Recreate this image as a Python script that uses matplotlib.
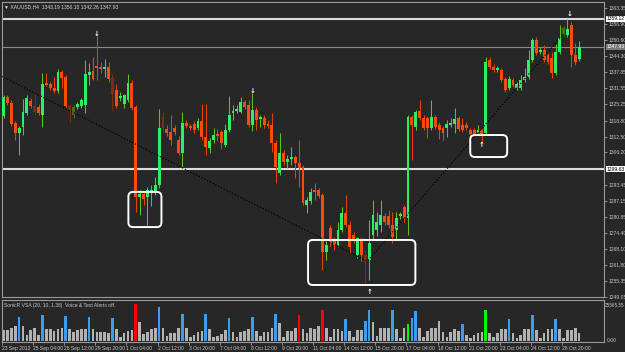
import matplotlib
matplotlib.use("Agg")
import matplotlib.pyplot as plt
from matplotlib.patches import FancyBboxPatch
import numpy as np

plt.rcParams['font.family'] = ['Liberation Sans', 'DejaVu Sans']

# XAUUSD H4 candles
opens = [1320.6, 1328.1, 1325.8, 1317.9, 1313.9, 1316.3, 1321.8, 1326.6, 1324.6, 1324.2,
         1321.0, 1333.7, 1333.3, 1331.7, 1330.5, 1338.0, 1336.1, 1324.6, 1321.0, 1324.2,
         1324.6, 1325.0, 1336.9, 1338.4, 1340.4, 1340.0, 1339.2, 1340.0, 1335.7, 1330.9,
         1327.8, 1325.4, 1327.0, 1333.7, 1324.2, 1288.6, 1289.8, 1288.6, 1290.2, 1290.6,
         1293.3, 1320.2, 1315.5, 1314.3, 1315.9, 1311.1, 1306.0, 1317.9, 1316.7, 1317.5,
         1315.9, 1318.7, 1312.3, 1308.0, 1311.1, 1313.5, 1314.3, 1309.2, 1315.1, 1321.8,
         1322.6, 1322.2, 1326.2, 1325.0, 1317.1, 1323.0, 1319.4, 1319.8, 1317.5, 1317.1,
         1310.0, 1298.1, 1306.0, 1302.4, 1303.6, 1304.4, 1302.0, 1300.5, 1285.4, 1287.0,
         1291.4, 1291.4, 1289.4, 1266.8, 1276.3, 1271.6, 1269.6, 1275.5, 1282.3, 1277.5,
         1273.6, 1265.7, 1271.6, 1265.7, 1263.7, 1273.6, 1275.5, 1277.5, 1281.1, 1281.1,
         1277.5, 1275.5, 1281.1, 1284.6, 1280.3, 1320.2, 1316.3, 1322.6, 1319.8, 1319.8,
         1315.9, 1320.2, 1317.1, 1315.9, 1315.9, 1317.1, 1317.5, 1319.8, 1317.1, 1317.1,
         1315.1, 1315.1, 1313.9, 1315.1, 1313.9, 1342.8, 1340.0, 1338.8, 1338.8, 1335.3,
         1331.7, 1334.9, 1331.7, 1331.7, 1334.9, 1336.1, 1342.8, 1350.7, 1345.9, 1346.7,
         1344.8, 1343.6, 1337.6, 1345.9, 1353.1, 1352.7, 1356.6, 1344.8, 1343.19]
highs = [1328.9, 1328.9, 1327.0, 1318.7, 1316.7, 1327.4, 1328.9, 1327.8, 1329.3, 1325.4,
         1337.6, 1337.6, 1334.1, 1336.1, 1339.2, 1338.8, 1336.9, 1325.4, 1325.0, 1326.2,
         1327.8, 1342.8, 1341.6, 1344.0, 1352.3, 1342.0, 1343.2, 1342.0, 1337.2, 1333.3,
         1330.1, 1329.3, 1337.2, 1334.9, 1325.0, 1291.4, 1290.6, 1292.6, 1293.3, 1296.5,
         1323.4, 1322.2, 1317.1, 1321.0, 1317.1, 1312.7, 1322.2, 1319.0, 1317.5, 1318.7,
         1319.8, 1325.4, 1325.4, 1311.9, 1315.9, 1315.5, 1315.1, 1317.5, 1328.5, 1325.0,
         1325.0, 1328.1, 1327.0, 1327.0, 1329.7, 1324.2, 1321.0, 1321.0, 1319.0, 1321.8,
         1311.1, 1313.9, 1307.2, 1305.2, 1308.4, 1305.2, 1311.1, 1301.3, 1288.6, 1292.2,
         1294.1, 1292.2, 1290.2, 1271.6, 1277.5, 1272.8, 1278.7, 1284.6, 1289.4, 1279.1,
         1274.8, 1272.8, 1272.8, 1267.6, 1279.5, 1287.4, 1282.7, 1287.4, 1282.3, 1283.5,
         1282.7, 1282.7, 1282.7, 1285.4, 1321.0, 1321.0, 1323.0, 1327.0, 1321.0, 1320.6,
         1327.0, 1321.0, 1318.3, 1316.7, 1319.0, 1319.8, 1323.8, 1320.6, 1319.8, 1318.3,
         1315.9, 1315.9, 1317.1, 1315.9, 1344.0, 1344.0, 1341.2, 1340.4, 1339.6, 1336.1,
         1336.5, 1335.7, 1334.1, 1336.9, 1339.6, 1346.7, 1351.5, 1351.9, 1347.9, 1348.7,
         1345.5, 1345.9, 1349.1, 1356.6, 1356.2, 1359.1, 1357.8, 1349.5, 1350.10]
lows = [1319.8, 1325.0, 1316.7, 1311.1, 1305.2, 1313.1, 1321.0, 1323.8, 1321.4, 1321.0,
        1316.3, 1332.5, 1330.9, 1329.7, 1329.7, 1331.7, 1323.8, 1318.3, 1319.8, 1323.4,
        1323.8, 1321.8, 1332.9, 1334.9, 1334.9, 1337.6, 1336.1, 1334.1, 1323.0, 1323.8,
        1326.6, 1323.8, 1326.2, 1323.0, 1282.7, 1281.5, 1285.4, 1277.5, 1285.0, 1289.4,
        1292.2, 1314.3, 1312.7, 1309.2, 1313.1, 1305.2, 1300.5, 1315.9, 1315.1, 1313.9,
        1315.1, 1311.1, 1305.2, 1306.0, 1310.0, 1310.7, 1307.6, 1308.4, 1314.3, 1319.0,
        1321.8, 1321.8, 1323.4, 1316.3, 1314.7, 1315.1, 1316.3, 1315.9, 1315.9, 1306.4,
        1294.1, 1297.3, 1301.3, 1300.1, 1301.3, 1296.1, 1292.6, 1285.4, 1282.3, 1285.8,
        1287.4, 1288.2, 1259.7, 1263.7, 1269.2, 1267.6, 1268.8, 1274.8, 1276.7, 1266.5,
        1270.4, 1264.5, 1263.3, 1254.6, 1255.8, 1271.6, 1273.2, 1274.8, 1277.5, 1276.3,
        1270.4, 1271.6, 1279.9, 1278.7, 1273.6, 1303.2, 1315.1, 1319.0, 1315.1, 1311.9,
        1315.1, 1315.5, 1311.5, 1311.1, 1312.3, 1316.3, 1313.9, 1314.7, 1314.3, 1315.1,
        1312.3, 1312.7, 1313.1, 1310.0, 1313.1, 1339.2, 1338.0, 1338.0, 1334.1, 1330.1,
        1330.9, 1332.1, 1330.9, 1330.9, 1334.1, 1335.3, 1342.0, 1344.8, 1345.2, 1342.0,
        1341.2, 1335.7, 1336.9, 1345.2, 1352.3, 1351.9, 1340.0, 1340.8, 1342.26]
closes = [1328.1, 1325.8, 1317.5, 1313.9, 1315.9, 1322.2, 1327.8, 1324.6, 1322.2, 1321.8,
          1333.3, 1332.9, 1331.7, 1330.5, 1338.0, 1335.7, 1324.6, 1323.0, 1324.2, 1325.4,
          1327.0, 1337.2, 1338.0, 1335.3, 1339.6, 1339.2, 1340.0, 1335.3, 1328.9, 1324.6,
          1328.5, 1328.9, 1333.7, 1323.8, 1288.6, 1289.8, 1287.8, 1291.4, 1291.4, 1293.3,
          1315.9, 1315.9, 1313.9, 1311.1, 1314.3, 1306.0, 1317.9, 1316.7, 1315.9, 1315.1,
          1318.7, 1312.3, 1308.4, 1310.7, 1313.1, 1312.7, 1310.0, 1315.1, 1321.0, 1322.6,
          1323.4, 1326.2, 1324.2, 1317.1, 1323.0, 1319.0, 1320.2, 1317.1, 1316.7, 1310.0,
          1300.5, 1306.0, 1302.4, 1303.6, 1304.4, 1302.0, 1300.1, 1286.2, 1287.4, 1290.6,
          1290.6, 1289.0, 1266.8, 1269.6, 1270.4, 1269.6, 1275.5, 1282.3, 1277.5, 1268.8,
          1271.6, 1272.4, 1265.7, 1262.9, 1270.4, 1281.5, 1278.7, 1281.5, 1278.7, 1277.5,
          1272.8, 1280.3, 1281.9, 1280.3, 1320.2, 1317.1, 1322.2, 1319.8, 1315.9, 1315.9,
          1320.2, 1316.3, 1315.1, 1313.9, 1317.5, 1317.9, 1319.4, 1315.5, 1315.1, 1315.9,
          1313.5, 1313.5, 1315.1, 1313.5, 1342.0, 1340.0, 1338.8, 1339.6, 1334.9, 1330.9,
          1335.3, 1332.9, 1333.3, 1334.9, 1336.1, 1342.8, 1350.7, 1345.5, 1346.7, 1342.8,
          1342.0, 1337.6, 1345.9, 1351.5, 1355.4, 1355.0, 1344.8, 1342.0, 1347.93]

# SonicR VSA volume
volumes = [6500, 6500, 8200, 9200, 14900, 9000, 3400, 6500, 8200, 3800,
           15900, 7600, 7600, 5900, 7000, 8200, 15300, 7600, 5500, 6500,
           7600, 7000, 14900, 7000, 5500, 5500, 5100, 4900, 14400, 7600,
           2400, 4500, 6100, 6500, 23200, 11700, 4100, 5500, 7000, 8200,
           21100, 8000, 3000, 4500, 4900, 8200, 16900, 8200, 2400, 3400,
           5500, 6000, 16500, 7200, 2000, 3000, 4100, 6500, 14200, 5100,
           2000, 5500, 5900, 7200, 14900, 5900, 2800, 5100, 5100, 8200,
           16500, 11100, 2400, 5900, 5900, 8000, 15900, 7600, 4500, 8200,
           7200, 9000, 19000, 8000, 2400, 7000, 7000, 6100, 13400, 6100,
           2400, 6500, 6500, 12200, 19000, 11700, 3000, 8000, 8000, 8200,
           19000, 7600, 1800, 8200, 10700, 14200, 18600, 8200, 2400, 5900,
           8200, 8200, 12200, 5100, 2400, 5100, 7200, 6100, 10700, 3800,
           1400, 3400, 4900, 5500, 19000, 4900, 2000, 4500, 7000, 7600,
           13400, 4900, 1400, 3800, 7600, 7600, 15900, 6500, 1400, 4500,
           7600, 7600, 13400, 7600, 1400, 6500, 6500, 8200, 4500]
blue_bars = [4, 10, 16, 22, 28, 40, 46, 52, 58, 64, 70, 88, 93, 94, 100, 105, 106, 118, 130, 136, 142]
red_bars = [34, 76, 82]
green_bars = [104, 124]
dim_bars = [8, 17, 18, 28, 41, 93, 144]

date_labels = ["23 Sep 2013", "25 Sep 04:00", "26 Sep 12:00", "29 Sep 20:00", "1 Oct 04:00",
               "2 Oct 12:00", "3 Oct 20:00", "7 Oct 04:00", "8 Oct 12:00", "9 Oct 20:00",
               "11 Oct 04:00", "14 Oct 12:00", "15 Oct 20:00", "17 Oct 04:00", "18 Oct 12:00",
               "21 Oct 20:00", "23 Oct 04:00", "24 Oct 12:00", "28 Oct 20:00"]
price_ticks = [1363.35, 1356.90, 1350.60, 1344.30, 1337.85, 1331.55, 1325.25, 1318.80,
               1312.50, 1306.20, 1293.45, 1287.15, 1280.85, 1274.40, 1268.10, 1261.80,
               1255.35, 1249.05]
level_high = 1359.12
level_bid = 1347.93
level_mid = 1299.63

zz_bars = [-0.5, 93.5, 143.0]
zz_prices = [1336.3, 1263.2, 1351.3]

arrow_bars = [24, 64, 94, 123, 145.5]
arrow_prices = [1353.0, 1330.6, 1251.2, 1309.0, 1361.0]
arrow_up = [False, False, True, True, False]

boxes = [(32.1, 40.6, 1276.7, 1290.6), (78.3, 105.9, 1253.8, 1271.6), (120.0, 129.5, 1304.4, 1313.1)]

bg = '#272727'
txt = '#c8c8c8'
fs = 3.6
up_body, up_wick = '#2cef68', '#5cc21a'
dn_body, dn_wick = '#ff4a0c', '#e8400a'
dim_up, dim_dn = '#4d6a22', '#7e2c12'

fig = plt.figure(figsize=(6.25, 3.52), dpi=100, facecolor=bg)
ax = fig.add_axes([2 / 625, 55 / 352, 602 / 625, 295 / 352], facecolor=bg)
axv = fig.add_axes([2 / 625, 10 / 352, 602 / 625, 42 / 352], facecolor=bg, sharex=ax)

n = len(opens)
idx = np.arange(n)

# horizontal levels
ax.axhline(level_high, color='#d8d8d8', lw=1.5, zorder=1)
ax.axhline(level_bid, color='#8a8a8a', lw=0.8, zorder=1)
ax.axhline(level_mid, color='#dcdcdc', lw=1.5, zorder=1)

# candles
for i in idx:
    o, h, l, c = opens[i], highs[i], lows[i], closes[i]
    up = c >= o
    if i in dim_bars:
        bc = wc = dim_up if up else dim_dn
    else:
        bc = up_body if up else dn_body
        wc = up_wick if up else dn_wick
    ax.vlines(i, l, h, color=wc, lw=0.75, zorder=2)
    ax.bar(i, max(abs(c - o), 0.35), bottom=min(o, c), width=0.72, color=bc, lw=0, zorder=3)

# zigzag
ax.plot(zz_bars, zz_prices, color='black', lw=0.8, ls=(0, (1.2, 1.6)), zorder=4)

# rounded boxes
for x0, x1, y0, y1 in boxes:
    ax.add_patch(FancyBboxPatch((x0, y0), x1 - x0, y1 - y0,
                                boxstyle="round,pad=0,rounding_size=1.2",
                                mutation_aspect=1.55, fc='none', ec='white', lw=1.4, zorder=5))

# fractal arrows
for b, p, u in zip(arrow_bars, arrow_prices, arrow_up):
    ax.text(b, p, '↑' if u else '↓', color='white', fontsize=5, ha='center', va='center',
            family=['DejaVu Sans'], fontweight='bold', zorder=6)

ax.set_xlim(0.05, 154.4)
ax.set_ylim(1249.05, 1365.7)
ax.yaxis.tick_right()
ax.set_yticks(price_ticks)
ax.set_yticklabels([f"{v:.2f}" for v in price_ticks])
ax.tick_params(axis='y', colors='#a0a0a0', labelcolor=txt, labelsize=fs, length=2, width=0.6, pad=1)
ax.tick_params(axis='x', bottom=False, labelbottom=False)
for s in ax.spines.values():
    s.set_color('#9a9a9a')
    s.set_linewidth(0.8)

# boxed price labels
ytr = ax.get_yaxis_transform()
ax.text(1.004, level_high, f"{level_high:.2f}", transform=ytr, fontsize=fs, color='black',
        va='center', ha='left', bbox=dict(boxstyle='square,pad=0.12', fc='white', ec='none'))
ax.text(1.004, level_bid, f"{level_bid:.2f}", transform=ytr, fontsize=fs, color='white',
        va='center', ha='left', bbox=dict(boxstyle='square,pad=0.12', fc='#7a7a7a', ec='none'))
ax.text(1.004, level_mid, f"{level_mid:.2f}", transform=ytr, fontsize=fs, color='black',
        va='center', ha='left', bbox=dict(boxstyle='square,pad=0.12', fc='white', ec='none'))

# volume panel
vcol = []
for i in idx:
    if i in red_bars:
        vcol.append('#ff0000')
    elif i in green_bars:
        vcol.append('#00ff00')
    elif i in blue_bars:
        vcol.append('#3d9cf0')
    else:
        vcol.append('#b2b2b2')
axv.bar(idx, volumes, width=0.7, color=vcol, lw=0)
axv.set_ylim(-900, 25565.55)
axv.set_yticks([])
axv.text(1.002, 0.86, "25565.55", transform=axv.transAxes, fontsize=3.3, color=txt, va='center')
axv.text(1.004, 0.04, "0.00", transform=axv.transAxes, fontsize=fs, color=txt, va='center')
axv.text(0.004, 0.86, "SonicR VSA (20, 10, 1.38)  Voice & Text Alerts off.", transform=axv.transAxes,
         fontsize=fs, color=txt, va='center')
for s in axv.spines.values():
    s.set_color('#9a9a9a')
    s.set_linewidth(0.8)

axv.set_xticks([8 * k - 0.4 for k in range(len(date_labels))])
axv.set_xticklabels(date_labels, ha='left')
axv.tick_params(axis='x', colors='#a0a0a0', labelcolor=txt, labelsize=fs, length=2, width=0.6, pad=1)

fig.text(4 / 625, 1 - 6.5 / 352, "▼ XAUUSD,H4  1343.19 1350.10 1342.26 1347.93", fontsize=fs,
         color='#d8d8d8', va='center', ha='left')

fig.savefig("out.png", dpi=100, facecolor=bg)
